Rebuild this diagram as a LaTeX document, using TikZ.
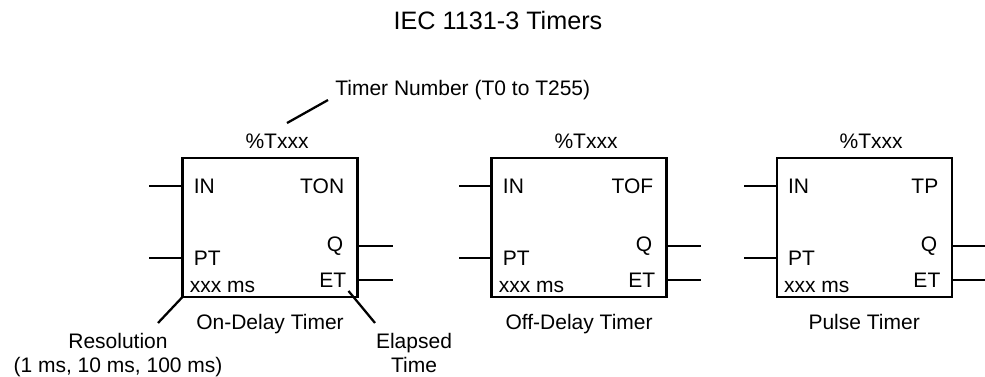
\documentclass[tikz,border=0pt]{standalone}
\usepackage{fontspec}
\setmainfont{Liberation Sans}
\usetikzlibrary{positioning}

\begin{document}
\begin{tikzpicture}[
    x=0.5714pt, y=-0.5714pt,
    font=\fontsize{12}{13.7}\selectfont,
    timer/.style={draw, line width=1.3pt, minimum width=100pt, minimum height=79.4pt, inner sep=0pt, outer sep=0pt},
    pin/.style={inner sep=0pt},
    wire/.style={line width=1.3pt},
    lead/.style={line width=1.3pt},
    note/.style={inner sep=0pt, align=center}
  ]
  \useasboundingbox (0,0) rectangle (985,377);

  % Title
  \node[pin, anchor=base, font=\fontsize{14.4}{17}\selectfont] (title) at (498,30) {IEC 1131-3 Timers};

  % 1. On-delay timer
  \node[timer] (ton) at (270,227.5) {};
  \node[pin, anchor=base] (ton-id) at ([shift={(7,-10)}]ton.north) {\%Txxx};
  \node[pin, anchor=base west] (ton-in) at ([shift={(11,35)}]ton.north west) {IN};
  \node[pin, anchor=base west] (ton-pt) at ([shift={(11,107)}]ton.north west) {PT};
  \node[pin, anchor=base west] (ton-res) at ([shift={(7,134)}]ton.north west) {xxx ms};
  \node[pin, anchor=base east] (ton-type) at ([shift={(-13,35)}]ton.north east) {TON};
  \node[pin, anchor=base east] (ton-q) at ([shift={(-14,93)}]ton.north east) {Q};
  \node[pin, anchor=base east] (ton-et) at ([shift={(-11,129)}]ton.north east) {ET};
  \node[pin, anchor=base] (ton-name) at ([shift={(0,33)}]ton.south) {On-Delay Timer};
  \draw[wire] (ton-in -| ton.west) -- ++(-33,0);
  \draw[wire] (ton-pt -| ton.west) -- ++(-33,0);
  \draw[wire] (ton-q -| ton.east) -- ++(35,0);
  \draw[wire] (ton-et -| ton.east) -- ++(35,0);

  % callouts on the first timer
  \node[pin, anchor=base west] (tnum) at ([shift={(58,-53)}]ton-id.base) {Timer Number (T0 to T255)};
  \node[note, anchor=north] (res) at ([shift={(-152,36)}]ton.south) {Resolution\\(1 ms, 10 ms, 100 ms)};
  \node[note, anchor=north] (ela) at ([shift={(144,36)}]ton.south) {Elapsed\\Time};
  \draw[lead] ([shift={(10,-25)}]ton-id.base) -- ([shift={(-7,5)}]tnum.base west);
  \draw[lead] (ton.south west) -- ([shift={(40,-10)}]res.north);
  \draw[lead] ([shift={(-9,-6)}]ton.south east) -- ([shift={(-39,-10)}]ela.north);

  % 2. Off-delay timer
  \node[timer, right=76.6pt of ton] (tof) {};
  \node[pin, anchor=base] (tof-id) at ([shift={(7,-10)}]tof.north) {\%Txxx};
  \node[pin, anchor=base west] (tof-in) at ([shift={(11,35)}]tof.north west) {IN};
  \node[pin, anchor=base west] (tof-pt) at ([shift={(11,107)}]tof.north west) {PT};
  \node[pin, anchor=base west] (tof-res) at ([shift={(7,134)}]tof.north west) {xxx ms};
  \node[pin, anchor=base east] (tof-type) at ([shift={(-13,35)}]tof.north east) {TOF};
  \node[pin, anchor=base east] (tof-q) at ([shift={(-14,93)}]tof.north east) {Q};
  \node[pin, anchor=base east] (tof-et) at ([shift={(-11,129)}]tof.north east) {ET};
  \node[pin, anchor=base] (tof-name) at ([shift={(0,33)}]tof.south) {Off-Delay Timer};
  \draw[wire] (tof-in -| tof.west) -- ++(-33,0);
  \draw[wire] (tof-pt -| tof.west) -- ++(-33,0);
  \draw[wire] (tof-q -| tof.east) -- ++(34,0);
  \draw[wire] (tof-et -| tof.east) -- ++(34,0);

  % 3. Pulse timer
  \node[timer, right=62.9pt of tof] (tp) {};
  \node[pin, anchor=base] (tp-id) at ([shift={(7,-10)}]tp.north) {\%Txxx};
  \node[pin, anchor=base west] (tp-in) at ([shift={(11,35)}]tp.north west) {IN};
  \node[pin, anchor=base west] (tp-pt) at ([shift={(11,107)}]tp.north west) {PT};
  \node[pin, anchor=base west] (tp-res) at ([shift={(7,134)}]tp.north west) {xxx ms};
  \node[pin, anchor=base east] (tp-type) at ([shift={(-13,35)}]tp.north east) {TP};
  \node[pin, anchor=base east] (tp-q) at ([shift={(-14,93)}]tp.north east) {Q};
  \node[pin, anchor=base east] (tp-et) at ([shift={(-11,129)}]tp.north east) {ET};
  \node[pin, anchor=base] (tp-name) at ([shift={(0,33)}]tp.south) {Pulse Timer};
  \draw[wire] (tp-in -| tp.west) -- ++(-33,0);
  \draw[wire] (tp-pt -| tp.west) -- ++(-33,0);
  \draw[wire] (tp-q -| tp.east) -- ++(33,0);
  \draw[wire] (tp-et -| tp.east) -- ++(33,0);
\end{tikzpicture}
\end{document}
